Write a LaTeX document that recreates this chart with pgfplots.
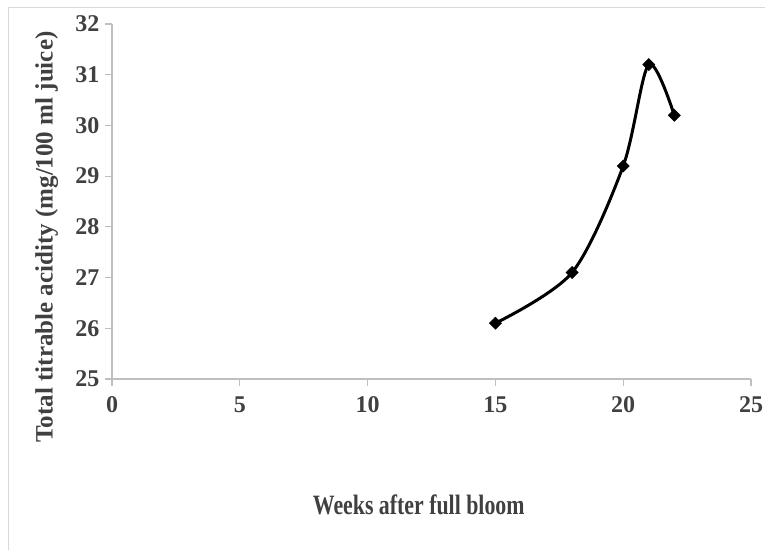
\documentclass[border=0pt]{standalone}
\usepackage{pgfplots}
\pgfplotsset{compat=1.18}
\usepackage{graphicx}
\usepackage{fontspec}
\setmainfont{Liberation Serif}
\definecolor{axisgray}{HTML}{BFBFBF}
\definecolor{txtgray}{HTML}{404040}
\definecolor{framegray}{HTML}{D9D9D9}
\begin{document}
\begin{tikzpicture}
\path[use as bounding box] (0,0) rectangle (765pt,550pt);
% outer chart frame (only top and left visible)
\draw[framegray, line width=1pt] (8pt,0) -- (8pt,542pt) -- (765pt,542pt);
\begin{axis}[
  at={(112pt,171pt)}, anchor=south west,
  scale only axis, width=639pt, height=355pt,
  xmin=0, xmax=25, ymin=25, ymax=32,
  xtick={0,5,...,25}, ytick={25,26,...,32},
  axis lines=left,
  axis line style={axisgray, line width=1.2pt, -},
  tick align=outside, major tick length=7pt,
  tick style={axisgray, line width=1.2pt},
  ticklabel style={font=\fontsize{24}{28}\selectfont\bfseries, text=txtgray},
  xticklabel style={yshift=-7pt},
  yticklabel style={xshift=-2pt},
  /pgf/number format/assume math mode=true,
  clip=false,
  xlabel={\scalebox{0.78}[1]{Weeks after full bloom}},
  xlabel style={at={(axis description cs:0.48,-0.355)}, anchor=center,
    font=\fontsize{28}{32}\selectfont\bfseries, text=txtgray},
  ylabel={Total titrable acidity (mg/100 ml juice)},
  ylabel style={at={(axis description cs:-0.102,0.40)}, anchor=center,
    font=\fontsize{25}{29}\selectfont\bfseries, text=txtgray},
]
\addplot[black, line width=3pt, smooth, mark=square*, mark size=4.3pt,
  mark options={solid, rotate=45, line width=0.5pt}]
  coordinates {(15,26.1) (18,27.1) (20,29.2) (21,31.2) (22,30.2)};
\end{axis}
\end{tikzpicture}
\end{document}
